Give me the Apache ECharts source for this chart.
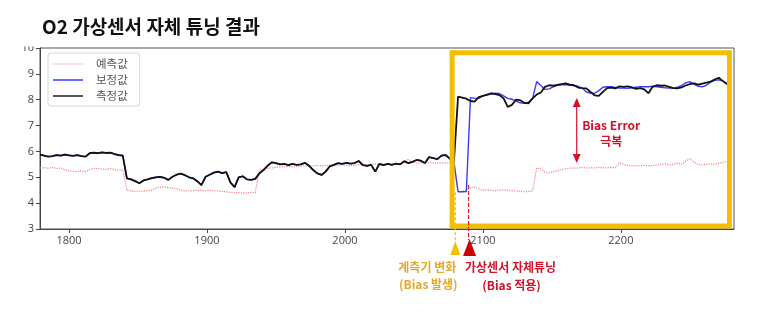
<!DOCTYPE html>
<html><head><meta charset="utf-8">
<script src="https://cdn.jsdelivr.net/npm/echarts@6/dist/echarts.min.js"></script>
<style>html,body{margin:0;padding:0;background:#fff}#c{width:769px;height:316px}</style>
</head><body><div id="c"></div>
<script>
// ---- data ----
const seriesNames = ['예측값', '보정값', '측정값'];
const xTicks = [1800, 1900, 2000, 2100, 2200];
const startTime = 1779;   // first sample index on x
const sampleStep = 3;     // spacing between samples

const predicted = [
  5.36,5.37,5.35,5.38,5.34,5.36,5.28,5.25,5.24,5.22,5.25,5.22,5.30,5.35,5.33,5.32,5.30,5.34,5.30,5.27,5.28,
  4.50,4.47,4.46,4.46,4.47,4.48,4.50,4.58,4.62,4.63,4.60,4.58,4.56,4.50,4.48,4.47,4.48,4.50,4.49,4.47,
  4.50,4.48,4.47,4.45,4.44,4.42,4.40,4.41,4.39,4.40,4.42,4.41,5.28,5.32,5.35,5.36,5.38,5.40,5.40,5.42,
  5.40,5.42,5.43,5.44,5.42,5.44,5.45,5.44,5.45,5.47,5.46,5.47,5.48,5.46,5.45,5.47,5.48,5.50,5.49,5.50,
  5.52,5.50,5.51,5.50,5.52,5.51,5.53,5.60,5.70,5.58,5.55,5.56,5.55,5.57,5.56,5.55,5.56,5.55,5.56,5.55,
  4.45,4.45,4.50,4.60,4.62,4.55,4.50,4.52,4.50,4.48,4.50,4.52,4.50,4.48,4.47,4.46,4.44,4.45,4.47,5.36,
  5.33,5.20,5.17,5.22,5.25,5.30,5.33,5.36,5.35,5.36,5.38,5.36,5.37,5.36,5.38,5.37,5.36,5.38,5.37,5.56,
  5.50,5.46,5.45,5.44,5.45,5.46,5.44,5.45,5.47,5.50,5.52,5.48,5.50,5.55,5.50,5.62,5.72,5.58,5.50,5.48,
  5.50,5.52,5.50,5.55,5.58,5.60
];
const measured = [
  5.88,5.84,5.80,5.82,5.86,5.84,5.88,5.85,5.83,5.86,5.82,5.80,5.93,5.95,5.93,5.96,5.94,5.95,5.90,5.86,5.84,
  4.96,4.92,4.85,4.77,4.88,4.92,4.97,5.00,5.02,4.98,4.90,5.02,5.10,5.14,5.08,5.00,4.96,4.85,4.70,5.02,
  5.10,5.18,5.22,5.16,5.20,4.80,4.62,5.00,5.04,4.92,4.90,4.94,5.15,5.28,5.45,5.58,5.55,5.50,5.52,5.47,
  5.52,5.48,5.50,5.56,5.45,5.28,5.15,5.09,5.22,5.42,5.48,5.55,5.52,5.56,5.53,5.55,5.63,5.47,5.44,5.48,
  5.22,5.52,5.47,5.52,5.48,5.53,5.50,5.62,5.55,5.60,5.67,5.64,5.55,5.78,5.74,5.70,5.84,5.86,5.72,5.60,
  8.12,8.08,8.04,7.95,7.93,8.10,8.15,8.20,8.25,8.22,8.18,8.05,7.72,7.80,8.00,7.98,7.88,7.86,8.05,8.20,
  8.28,8.50,8.56,8.54,8.57,8.60,8.63,8.58,8.56,8.47,8.45,8.44,8.30,8.17,8.15,8.30,8.45,8.47,8.44,8.52,
  8.50,8.52,8.48,8.42,8.45,8.40,8.25,8.50,8.56,8.54,8.55,8.50,8.45,8.44,8.48,8.55,8.60,8.63,8.58,8.62,
  8.66,8.70,8.78,8.85,8.72,8.60
];
// corrected values equal the measured ones until the bias (first 101 samples), then:
const correctedSamplesBeforeBias = 101;
const correctedAfterBias = [
  4.44,4.44,4.45,8.08,8.05,8.05,8.15,8.18,8.22,8.25,8.24,8.15,8.05,8.02,7.95,7.88,7.86,7.90,8.05,8.70,
  8.55,8.40,8.42,8.50,8.56,8.58,8.58,8.56,8.55,8.52,8.45,8.30,8.26,8.25,8.35,8.48,8.50,8.50,8.47,8.45,
  8.45,8.44,8.46,8.48,8.50,8.50,8.50,8.52,8.50,8.48,8.46,8.45,8.45,8.48,8.55,8.65,8.70,8.60,8.52,8.50,
  8.56,8.68,8.75,8.77,8.72,8.62
];
const corrected = measured.slice(0, correctedSamplesBeforeBias).concat(correctedAfterBias);

// annotation anchors (data coordinates)
const biasTime = 2080, tuneTime = 2089.6;
const boxCorners = [2077.7, 9.82, 2278.7, 3.12];
const arrowSpan = [2168, 8.07, 5.55];
const biasLabelPos = [2193, 7.02, 6.4];

// ---- chart ----
const times = measured.map((_, i) => startTime + i * sampleStep);
const pairs = arr => arr.map((v, i) => [times[i], v]);
const FONT = "'Open Sans', 'Noto Sans CJK KR', sans-serif";
const KR = '"Noto Sans CJK KR", sans-serif';

// legend icons: a plain line, and a dotted line (boxes 30 x 12)
const BOUNDS = 'M0,0h0.01v0.01h-0.01z M29.99,11.99h0.01v0.01h-0.01z ';
const solidIcon = 'path://' + BOUNDS + 'M0,5.3h30v1.4h-30z';
let dots = '';
for (let k = 0; k < 30; k += 2.6) dots += 'M' + k + ',5.5h1.3v1h-1.3z ';
const dottedIcon = 'path://' + BOUNDS + dots;

const PINK = '#ee8484';
const chart = echarts.init(document.getElementById('c'), null, {renderer: 'canvas'});
chart.setOption({
  animation: false,
  textStyle: {fontFamily: FONT},
  grid: {left: 40, right: 35, top: 48, bottom: 87, show: true, borderColor: '#555', borderWidth: 1, backgroundColor: 'transparent'},
  legend: {
    data: [
      {name: seriesNames[0], icon: dottedIcon, itemStyle: {color: PINK}},
      {name: seriesNames[1], icon: solidIcon, itemStyle: {color: '#3b3bff'}},
      {name: seriesNames[2], icon: solidIcon, itemStyle: {color: '#222'}}
    ],
    left: 48, top: 53, orient: 'vertical',
    itemWidth: 30, itemHeight: 12, itemGap: 4, padding: [5, 12, 4, 5],
    borderColor: '#d6d6d6', borderWidth: 1, borderRadius: 3, backgroundColor: '#fff',
    textStyle: {fontSize: 11.5, color: '#555', fontFamily: KR, padding: [0, 0, 0, 8]}
  },
  xAxis: {
    type: 'value', min: 1779, max: 2282,
    axisLine: {show: true, lineStyle: {color: '#444'}},
    axisTick: {show: true, length: 4, customValues: xTicks, lineStyle: {color: '#444'}},
    axisLabel: {customValues: xTicks, fontSize: 11, color: '#444', margin: 6, formatter: v => String(v)},
    splitLine: {show: false}
  },
  yAxis: {
    type: 'value', min: 3, max: 10, interval: 1,
    axisLine: {show: true, lineStyle: {color: '#444'}},
    axisTick: {show: true, length: 4, lineStyle: {color: '#444'}},
    axisLabel: {fontSize: 11, color: '#444', margin: 6},
    splitLine: {show: false}
  },
  series: [
    {name: seriesNames[0], type: 'line', data: pairs(predicted), symbol: 'none', showSymbol: false,
     lineStyle: {color: PINK, width: 1.2, type: 'dotted'}, itemStyle: {color: PINK}},
    {name: seriesNames[1], type: 'line', data: pairs(corrected), symbol: 'none', showSymbol: false,
     lineStyle: {color: '#3b3bff', width: 1.4}, itemStyle: {color: '#3b3bff'}},
    {name: seriesNames[2], type: 'line', data: pairs(measured), symbol: 'none', showSymbol: false,
     lineStyle: {color: '#111', width: 1.8}, itemStyle: {color: '#111'}}
  ]
});

const P = (x, y) => chart.convertToPixel({gridIndex: 0}, [x, y]);
const b0 = P(boxCorners[0], boxCorners[1]);
const b1 = P(boxCorners[2], boxCorners[3]);
const axisY = P(2000, 3)[1];
const yx = P(biasTime, 3)[0];
const rx = P(tuneTime, 3)[0];
const aTop = P(arrowSpan[0], arrowSpan[1]);
const aBot = P(arrowSpan[0], arrowSpan[2]);
const l1 = P(biasLabelPos[0], biasLabelPos[1]);
const l2 = P(biasLabelPos[0], biasLabelPos[2]);
const GOLD = '#F5BF00', GOLDTXT = '#E4A92A', RED = '#D0142C';

function txt(text, x, y, color, size) {
  return {type: 'text', z: 120, style: {text, x, y, fill: color, font: 'bold ' + size + 'px ' + KR,
    textAlign: 'center', textVerticalAlign: 'middle', align: 'center', verticalAlign: 'middle'}};
}

chart.setOption({
  graphic: [
    {type: 'rect', z: 90, shape: {x: 0, y: 0, width: 37, height: 46.5}, style: {fill: '#fff'}},
    {type: 'text', z: 120, style: {text: 'O2 가상센서 자체 튜닝 결과', x: 42, y: 27, fill: '#111',
      font: 'bold 19px ' + KR, textVerticalAlign: 'middle', verticalAlign: 'middle'}},
    {type: 'rect', z: 100, shape: {x: b0[0], y: b0[1], width: b1[0] - b0[0], height: b1[1] - b0[1]},
      style: {fill: 'none', stroke: GOLD, lineWidth: 5}},
    {type: 'line', z: 100, shape: {x1: yx, y1: P(biasTime, 4.42)[1], x2: yx, y2: axisY + 13},
      style: {stroke: GOLD, lineWidth: 1.2, lineDash: [3, 2]}},
    {type: 'line', z: 100, shape: {x1: rx, y1: P(tuneTime, 4.7)[1], x2: rx, y2: axisY + 11},
      style: {stroke: '#E02020', lineWidth: 1.2, lineDash: [4, 2]}},
    {type: 'polygon', z: 110, shape: {points: [[yx, axisY + 12], [yx - 5, axisY + 26], [yx + 5, axisY + 26]]},
      style: {fill: GOLD}},
    {type: 'polygon', z: 110, shape: {points: [[rx + 1, axisY + 10], [rx - 5.5, axisY + 27], [rx + 7.5, axisY + 27]]},
      style: {fill: '#CC0000'}},
    txt('계측기 변화', yx - 28, axisY + 38, GOLDTXT, 12),
    txt('(Bias 발생)', yx - 27, axisY + 55, GOLDTXT, 12),
    txt('가상센서 자체튜닝', rx + 42, axisY + 38, RED, 12),
    txt('(Bias 적용)', rx + 43, axisY + 56, RED, 12),
    {type: 'line', z: 110, shape: {x1: aTop[0], y1: aTop[1] + 6, x2: aBot[0], y2: aBot[1] - 6},
      style: {stroke: RED, lineWidth: 1.2}},
    {type: 'polygon', z: 110, shape: {points: [[aTop[0], aTop[1]], [aTop[0] - 4, aTop[1] + 9], [aTop[0] + 4, aTop[1] + 9]]},
      style: {fill: RED}},
    {type: 'polygon', z: 110, shape: {points: [[aBot[0], aBot[1]], [aBot[0] - 4, aBot[1] - 9], [aBot[0] + 4, aBot[1] - 9]]},
      style: {fill: RED}},
    txt('Bias Error', l1[0], l1[1], RED, 12),
    txt('극복', l2[0], l2[1], RED, 12)
  ]
});
</script>
</body></html>
